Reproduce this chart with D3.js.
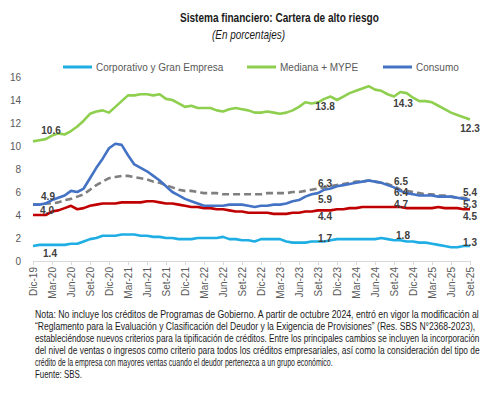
<!DOCTYPE html>
<html lang="es">
<head>
<meta charset="UTF-8">
<title>Sistema financiero: Cartera de alto riesgo</title>
<script src="https://d3js.org/d3.v7.min.js"></script>
<style>
  body { margin: 0; background: #fff; }
  svg { display: block; }
  .axis text { font-family: "Liberation Sans", Arial, sans-serif; font-size: 10px; fill: #595959; }
  .axis path, .axis line { stroke: #d9d9d9; }
</style>
</head>
<body>
<svg width="500" height="393"></svg>
<script>
// Meses trimestrales (etiquetas del eje X)
const quarterLabels = ['Dic-19','Mar-20','Jun-20','Set-20','Dic-20','Mar-21','Jun-21','Set-21',
  'Dic-21','Mar-22','Jun-22','Set-22','Dic-22','Mar-23','Jun-23','Set-23',
  'Dic-23','Mar-24','Jun-24','Set-24','Dic-24','Mar-25','Jun-25','Set-25'];

// Series mensuales Dic-19 .. Set-25 (70 meses)
const corporativo = [1.3,1.4,1.4,1.4,1.4,1.4,1.5,1.5,1.7,1.9,2.0,2.2,2.2,2.2,2.3,2.3,2.3,2.2,2.2,2.1,
  2.1,2.0,2.0,1.9,1.9,1.9,2.0,2.0,2.0,2.0,2.1,1.9,1.9,1.8,1.8,1.7,1.9,1.9,1.9,1.9,
  1.7,1.6,1.6,1.6,1.7,1.7,1.7,1.8,1.9,1.9,1.9,1.9,1.9,1.9,1.9,2.0,1.9,1.8,1.8,1.7,
  1.7,1.6,1.6,1.5,1.4,1.3,1.2,1.2,1.3,1.3];
const mediana = [10.4,10.5,10.6,10.9,11.1,11.0,11.3,11.7,12.2,12.8,13.0,13.1,12.9,13.4,13.9,14.4,14.4,14.5,14.5,14.4,
  14.5,14.1,14.0,13.7,13.4,13.5,13.3,13.3,13.3,13.1,13.0,13.2,13.3,13.2,13.1,12.9,12.9,13.0,12.9,12.8,
  12.9,13.1,13.4,13.8,13.7,13.8,14.1,14.3,14.0,14.3,14.6,14.8,15.0,15.2,14.9,14.8,14.5,14.3,14.7,14.6,
  14.2,13.9,13.9,13.8,13.5,13.2,12.9,12.7,12.5,12.3];
const consumo = [4.9,4.9,5.0,5.3,5.5,5.7,6.1,6.0,6.3,7.2,8.1,8.9,9.8,10.2,10.1,9.2,8.4,8.1,7.8,7.4,
  7.0,6.5,6.0,5.7,5.4,5.2,5.0,4.8,4.8,4.8,4.8,4.9,4.9,4.9,4.8,4.7,4.8,4.8,4.9,4.9,
  5.0,5.2,5.3,5.6,5.8,5.9,6.2,6.3,6.5,6.6,6.7,6.8,6.9,7.0,6.9,6.8,6.6,6.4,6.1,5.9,
  5.8,5.7,5.7,5.7,5.6,5.6,5.6,5.5,5.4,5.3];
const hipotecario = [4.0,4.0,4.0,4.3,4.4,4.6,4.8,4.5,4.6,4.8,4.9,5.0,5.0,5.0,5.1,5.1,5.1,5.1,5.2,5.2,
  5.1,5.0,5.0,4.9,4.8,4.7,4.7,4.6,4.6,4.5,4.5,4.4,4.3,4.3,4.2,4.2,4.2,4.2,4.1,4.1,
  4.1,4.2,4.2,4.3,4.3,4.4,4.4,4.4,4.5,4.5,4.6,4.6,4.7,4.7,4.7,4.7,4.7,4.7,4.7,4.6,
  4.6,4.6,4.6,4.6,4.7,4.6,4.6,4.6,4.5,4.5];
const total = [4.9,4.9,5.0,5.0,5.1,5.3,5.4,5.6,5.8,6.2,6.6,6.9,7.2,7.3,7.4,7.4,7.3,7.2,7.1,6.9,
  6.8,6.6,6.4,6.2,6.1,6.1,6.0,5.9,5.9,5.9,5.8,5.8,5.8,5.8,5.8,5.8,5.8,5.9,5.9,5.9,
  5.9,6.0,6.0,6.1,6.2,6.3,6.4,6.5,6.6,6.7,6.8,6.9,6.9,7.0,6.9,6.8,6.7,6.5,6.2,6.1,
  6.0,5.9,5.8,5.8,5.7,5.7,5.6,5.5,5.5,5.4];

const yTicks = [0, 2, 4, 6, 8, 10, 12, 14, 16];

// Etiquetas de datos: serie, índice del mes, texto, desplazamiento
const dataLabels = [
  ['mediana', 0, '10.6', 18, -11], ['total', 0, '4.9', 15, -8],
  ['hipotecario', 0, '4.0', 14, -5], ['corporativo', 0, '1.4', 17, 7],
  ['mediana', 45, '13.8', 7, 4], ['total', 45, '6.3', 7, -5],
  ['consumo', 45, '5.9', 7, 6], ['hipotecario', 45, '4.4', 7, 6],
  ['corporativo', 45, '1.7', 7, -3],
  ['mediana', 57, '14.3', 9, 7], ['total', 57, '6.5', 7, -5],
  ['consumo', 57, '6.4', 7, 5], ['hipotecario', 57, '4.7', 7, -2],
  ['corporativo', 57, '1.8', 9, -5],
  ['mediana', 69, '12.3', 0, 9], ['total', 69, '5.4', 0, -6],
  ['consumo', 69, '5.3', 0, 4], ['hipotecario', 69, '4.5', 0, 7],
  ['corporativo', 69, '1.3', 0, -4]
];

const noteLines = [
  'Nota: No incluye los créditos de Programas de Gobierno. A partir de octubre 2024, entró en vigor la modificación al',
  '“Reglamento para la Evaluación y Clasificación del Deudor y la Exigencia de Provisiones” (Res. SBS N°2368-2023),',
  'estableciéndose nuevos criterios para la tipificación de créditos. Entre los principales cambios se incluyen la incorporación',
  'del nivel de ventas o ingresos como criterio para todos los créditos empresariales, así como la consideración del tipo de',
  'crédito de la empresa con mayores ventas cuando el deudor pertenezca a un grupo económico.',
  'Fuente: SBS.'
];
const noteWidths = [445, 441, 445, 445, 298, 47];

const series = {
  corporativo: { values: corporativo, color: '#1eaee3', dash: null },
  mediana: { values: mediana, color: '#8fcf4f', dash: null },
  total: { values: total, color: '#7f7f7f', dash: '7,4' },
  hipotecario: { values: hipotecario, color: '#c00000', dash: null },
  consumo: { values: consumo, color: '#4472c4', dash: null }
};
const drawOrder = ['corporativo', 'mediana', 'hipotecario', 'total', 'consumo'];

const svg = d3.select('svg');
const n = corporativo.length;

const x = d3.scaleLinear().domain([0, n - 1]).range([33, 470]);
const y = d3.scaleLinear().domain([0, 16]).range([261, 77]);

// texto estrecho: se escala en horizontal hasta el ancho deseado
function narrow(sel, left, top, width) {
  sel.attr('transform', function(d, i) {
    const w = this.getComputedTextLength();
    const tx = typeof left === 'function' ? left(d, i) : left;
    const ty = typeof top === 'function' ? top(d, i) : top;
    const tw = typeof width === 'function' ? width(d, i) : width;
    return `translate(${tx},${ty}) scale(${tw / w},1)`;
  });
}

// Título
svg.append('text')
  .style('font-family', '"Liberation Sans", Arial, sans-serif')
  .style('font-weight', 'bold').style('font-size', '13px').style('fill', '#1a1a1a')
  .text('Sistema financiero: Cartera de alto riesgo')
  .call(narrow, 180, 22, 199);
svg.append('text')
  .style('font-family', '"Liberation Sans", Arial, sans-serif')
  .style('font-style', 'italic').style('font-size', '12px').style('fill', '#1a1a1a')
  .text('(En porcentajes)')
  .call(narrow, 212, 39, 73);

// Leyenda
const legend = [
  { key: 'corporativo', label: 'Corporativo y Gran Empresa', x: 63 },
  { key: 'mediana', label: 'Mediana + MYPE', x: 247 },
  { key: 'consumo', label: 'Consumo', x: 383 }
];
const lg = svg.append('g').selectAll('g').data(legend).join('g')
  .attr('transform', d => `translate(${d.x},67)`);
lg.append('line')
  .attr('x1', 0).attr('x2', 29)
  .attr('stroke', d => series[d.key].color).attr('stroke-width', 3);
lg.append('text')
  .attr('x', 33).attr('dy', '0.35em')
  .style('font-family', '"Liberation Sans", Arial, sans-serif')
  .style('font-size', '10px').style('fill', '#595959')
  .text(d => d.label);

// Ejes
svg.append('g')
  .attr('class', 'axis')
  .attr('transform', 'translate(21,0)')
  .call(d3.axisLeft(y).tickValues(yTicks).tickSize(0).tickPadding(0))
  .call(g => g.select('.domain').remove());

svg.append('g')
  .attr('class', 'axis')
  .attr('transform', `translate(0,${y(0)})`)
  .call(d3.axisBottom(x)
    .tickValues(d3.range(0, n, 3))
    .tickFormat((d, i) => quarterLabels[i])
    .tickSizeInner(4).tickSizeOuter(0))
  .call(g => g.selectAll('text')
    .attr('transform', 'rotate(-90)')
    .attr('text-anchor', 'end')
    .attr('x', -6).attr('y', 0).attr('dy', '0.35em'));

// Líneas
const line = d3.line().x((d, i) => x(i)).y(d => y(d));
svg.append('g').selectAll('path').data(drawOrder).join('path')
  .attr('d', k => line(series[k].values))
  .attr('fill', 'none')
  .attr('stroke', k => series[k].color)
  .attr('stroke-width', 2.6)
  .attr('stroke-linejoin', 'round')
  .attr('stroke-dasharray', k => series[k].dash);

// Etiquetas de datos
svg.append('g').selectAll('text').data(dataLabels).join('text')
  .attr('x', d => x(d[1]) + d[3])
  .attr('y', d => y(series[d[0]].values[d[1]]) + d[4])
  .attr('text-anchor', 'middle').attr('dy', '0.35em')
  .style('font-family', '"Liberation Sans", Arial, sans-serif')
  .style('font-weight', 'bold').style('font-size', '10px').style('fill', '#404040')
  .text(d => d[2]);

// Nota
svg.append('g').selectAll('text').data(noteLines).join('text')
  .style('font-family', '"Liberation Sans", Arial, sans-serif')
  .style('font-size', '10px').style('fill', '#1a1a1a')
  .text(d => d)
  .call(narrow, 35, (d, i) => 318 + i * 12, (d, i) => noteWidths[i]);
</script>
</body>
</html>
